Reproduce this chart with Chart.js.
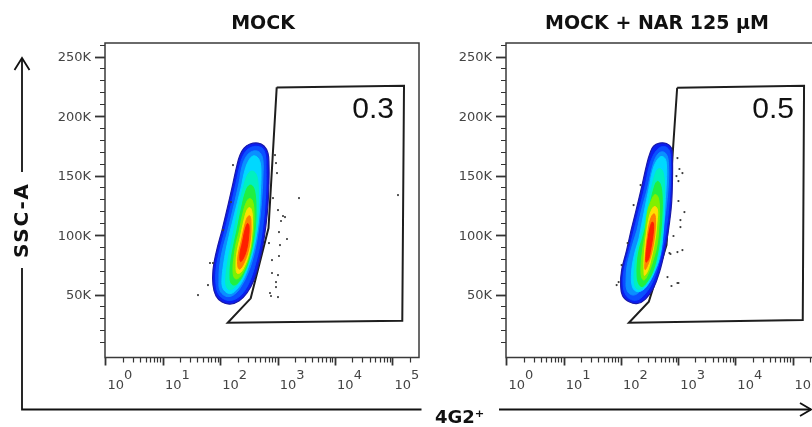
<!DOCTYPE html>
<html><head><meta charset="utf-8">
<script src="https://cdn.jsdelivr.net/npm/chart.js@4.4.1/dist/chart.umd.min.js"></script>
<style>
html,body{margin:0;padding:0;background:#fff;}
body{width:812px;height:427px;overflow:hidden;position:relative;}
canvas{position:absolute;top:0;}
#c1{left:0;} #c2{left:400px;}
#ov{position:absolute;left:0;top:0;pointer-events:none;}
</style></head><body>
<canvas id="c1" width="430" height="427"></canvas>
<canvas id="c2" width="430" height="427"></canvas>
<svg id="ov" width="812" height="427" xmlns="http://www.w3.org/2000/svg"></svg>
<script>
// ---------- texts ----------
const panelTitles = ['MOCK', 'MOCK + NAR 125 µM'];
const gateValues = ['0.3', '0.5'];
const yAxisTitle = 'SSC-A';
const xAxisTitle = '4G2⁺';

// ---------- axes ----------
const xMin = 0.961, xMax = 283800;
const yMin = -2500, yMax = 261800;
const xDecades = [1, 10, 100, 1000, 10000, 100000];
const xExponents = ['0', '1', '2', '3', '4', '5'];
const xMinorMultipliers = [2, 3, 4, 5, 6, 7, 8, 9];
const yMajorValues = [50000, 100000, 150000, 200000, 250000];
const yMajorLabels = ['50K', '100K', '150K', '200K', '250K'];
const yMinorStep = 10000;

// ---------- MOCK panel: gate, density contours (outer -> inner), events ----------
const mockGate = [[942,224500],[155500,225900],[145200,28400],[132,26700],[332,47200],[678,106300],[942,224500]];
const mockL1 = [[105.0,104600],[133.5,125600],[163.2,144100],[191.5,159200],[216.0,167600],[253.6,173500],[322.7,176900],[444.8,177700],[565.8,175200],[664.2,169300],[691.3,159200],[691.3,144100],[664.2,125600],[613.1,108800],[543.6,92000],[463.0,76900],[378.8,62600],[286.1,51700],[207.5,45000],[144.7,42400],[105.0,44100],[82.5,49200],[73.1,58400],[73.1,71000],[82.5,85300],[105.0,104600]];
const mockL2 = [[118.4,104600],[150.6,125600],[184.0,144100],[216.0,159200],[243.7,166800],[286.1,171800],[349.7,174400],[444.8,174800],[543.6,172700],[600.7,166800],[613.1,156700],[613.1,142400],[588.8,125600],[543.6,108800],[481.9,92000],[410.5,77700],[335.9,64300],[264.0,54200],[199.4,47900],[144.7,45400],[109.2,47100],[89.4,51700],[82.5,59200],[82.5,71000],[93.0,85300],[118.4,104600]];
const mockL3 = [[133.5,104600],[169.8,125600],[207.5,144100],[234.0,157600],[274.8,166000],[335.9,170200],[427.3,171000],[501.6,168400],[543.6,162600],[543.6,150800],[522.3,134000],[481.9,114700],[427.3,96200],[363.9,81100],[297.8,68500],[234.0,58400],[184.0,51700],[139.0,48700],[109.2,50400],[94.9,55000],[93.0,62600],[94.9,72700],[105.0,86100],[133.5,104600]];
const mockL4 = [[147.6,104600],[184.0,123100],[224.9,139900],[264.0,155000],[310.0,163400],[363.9,166800],[427.3,166000],[481.9,161800],[501.6,152500],[491.6,138200],[472.5,121400],[427.3,102900],[363.9,86100],[297.8,72700],[243.7,62600],[191.5,55000],[150.6,51300],[123.2,52500],[107.1,56700],[105.0,64300],[111.4,75200],[123.2,87800],[147.6,104600]];
const mockL5 = [[169.8,104600],[207.5,125600],[253.6,142400],[297.8,151700],[349.7,154200],[410.5,151700],[444.8,144100],[453.8,129800],[436.0,113000],[394.3,97900],[335.9,83600],[274.8,71000],[216.0,61700],[169.8,55900],[139.0,54600],[123.2,58400],[123.2,66800],[133.5,79400],[150.6,92000],[169.8,104600]];
const mockL6 = [[191.5,104600],[229.4,123100],[269.4,136500],[310.0,142000],[356.7,141600],[394.3,135700],[410.5,123100],[402.4,108800],[363.9,93700],[310.0,79400],[253.6,68500],[207.5,61300],[173.3,58400],[150.6,60100],[144.7,67600],[150.6,79400],[166.5,91200],[191.5,104600]];
const mockL7 = [[207.5,102900],[243.7,118900],[280.4,128100],[316.3,131100],[356.7,129000],[378.8,119700],[371.3,106300],[342.7,92000],[297.8,79400],[243.7,69300],[199.4,63900],[173.3,64300],[163.2,71000],[169.8,81900],[184.0,92900],[207.5,102900]];
const mockL8 = [[220.4,99600],[253.6,113000],[286.1,121400],[316.3,123500],[342.7,121400],[356.7,113000],[342.7,97900],[310.0,85300],[264.0,75200],[220.4,68900],[191.5,68500],[184.0,75200],[191.5,86100],[220.4,99600]];
const mockL9 = [[229.4,96200],[258.8,108000],[291.9,115500],[322.7,116400],[335.9,109700],[329.2,97900],[297.8,86100],[253.6,76900],[216.0,71800],[199.4,73500],[199.4,82800],[229.4,96200]];
const mockL10 = [[238.8,94500],[264.0,104600],[291.9,110100],[310.0,108000],[303.9,97900],[280.4,87800],[243.7,80200],[220.4,78100],[216.0,84500],[238.8,94500]];
const mockEvents = [[879.7,167600],[915.6,160900],[953.0,152500],[2304,131500],[122200,134000],[1314,115500],[1119,112200],[1032,102900],[1423,97100],[1075,92000],[1032,82800],[779.8,79400],[779.8,68500],[992,66800],[915.6,60900],[915.6,56700],[719.6,51700],[992,48300],[40.1,50000],[59.8,58400],[64.8,76900],[73.1,76900],[163.2,159200],[150.6,128100],[109.2,104600],[811.9,131500],[992,121400],[1212,116400],[691.3,93700],[749.2,49200]];

// ---------- MOCK + NAR panel ----------
const narGate = [[942,224200],[155500,225900],[147600,29000],[135,26700],[301,44400],[613,92000],[942,224200]];
const narL1 = [[147.6,104600],[180.4,121400],[229.4,142400],[274.8,159200],[316.3,169300],[363.9,175200],[463.0,177700],[613.1,177300],[749.2,173500],[779.8,165100],[779.8,146600],[749.2,125600],[664.2,104600],[565.8,86100],[463.0,69300],[363.9,55900],[264.0,46600],[191.5,42900],[139.0,44100],[105.0,49200],[96.9,58400],[100.8,71000],[123.2,87800],[147.6,104600]];
const narL2 = [[166.5,104600],[203.4,121400],[258.8,141600],[303.9,157600],[349.7,166000],[410.5,171400],[491.6,174400],[600.7,174400],[691.3,171000],[719.6,163400],[719.6,146600],[677.6,125600],[600.7,104600],[511.8,87000],[418.8,71000],[329.2,58400],[243.7,49600],[187.7,45800],[141.8,46600],[116.0,51300],[107.1,59200],[111.4,71000],[136.2,87800],[166.5,104600]];
const narL3 = [[187.7,104600],[224.9,121400],[286.1,139900],[335.9,155000],[386.5,164300],[453.8,169300],[543.6,170200],[625.6,167200],[664.2,160100],[664.2,145000],[613.1,125600],[532.8,106300],[453.8,90300],[371.3,76000],[291.9,63900],[224.9,55000],[176.8,50400],[141.8,50800],[123.2,55000],[120.8,62600],[125.7,74400],[150.6,89500],[187.7,104600]];
const narL4 = [[203.4,97900],[234.0,113000],[264.0,125600],[303.9,139900],[349.7,154200],[410.5,162600],[491.6,166400],[577.2,164700],[613.1,158400],[613.1,146600],[577.2,125600],[532.8,100500],[472.5,82800],[378.8,69300],[286.1,58400],[220.4,53400],[176.8,53400],[153.6,58000],[150.6,69300],[166.5,82800],[203.4,97900]];
const narL5 = [[216.0,97900],[258.8,113000],[289.5,125600],[329.2,138200],[378.8,150000],[427.3,155500],[491.6,155900],[543.6,151700],[565.8,141600],[550.1,125600],[511.8,100500],[444.8,83600],[359.5,69300],[274.8,59700],[216.0,55000],[180.4,55900],[166.5,61800],[169.8,72700],[184.0,86100],[216.0,97900]];
const narL6 = [[234.0,97900],[280.4,112200],[322.7,128100],[371.3,139900],[418.8,145400],[472.5,143700],[511.8,134900],[511.8,117200],[472.5,97900],[418.8,82800],[349.7,69300],[274.8,60500],[229.4,57100],[199.4,59700],[187.7,66800],[191.5,79400],[207.5,89500],[234.0,97900]];
const narL7 = [[258.8,100500],[286.1,119700],[335.9,129800],[386.5,134400],[436.0,132300],[463.0,123100],[453.8,108800],[418.8,92000],[349.7,77700],[286.1,66800],[248.6,62600],[224.9,65100],[220.4,74400],[234.0,87800],[258.8,100500]];
const narL8 = [[264.0,96200],[297.8,113000],[342.7,122300],[386.5,124400],[427.3,121400],[418.8,111300],[386.5,96200],[335.9,81900],[291.9,71000],[253.6,66400],[248.6,69300],[248.6,81100],[264.0,96200]];
const narL9 = [[274.8,94500],[303.9,108800],[342.7,116800],[378.8,118100],[394.3,111300],[371.3,96200],[329.2,83600],[286.1,74800],[258.8,71400],[258.8,78600],[274.8,94500]];
const narL10 = [[280.4,92000],[310.0,104600],[342.7,111300],[363.9,110100],[356.7,100500],[322.7,87800],[297.8,80200],[269.4,77700],[269.4,84500],[280.4,92000]];
const narEvents = [[953.0,165100],[1032,155900],[1165,152500],[915.6,150000],[992,145800],[992,129000],[1262,119700],[1075,113000],[1075,107100],[811.9,99600],[1165,87800],[953,86100],[719.6,84500],[638.2,65100],[953,60100],[749.2,57600],[216.0,142400],[163.2,125600],[128.2,93700],[100.8,75200],[89.4,60900],[82.5,58400],[691.3,85300],[992,60100]];

const mockLevels = [mockL1, mockL2, mockL3, mockL4, mockL5, mockL6, mockL7, mockL8, mockL9, mockL10];
const narLevels = [narL1, narL2, narL3, narL4, narL5, narL6, narL7, narL8, narL9, narL10];

// ---------- styles ----------
const levelColors = ['#0a1ef0','#0a50ff','#0a90ff','#00d8ff','#00f0c0','#20f040','#80f000','#ffe000','#ff8000','#ff2000'];

// ---------- tick lists for the library ----------
const xTickValues = [];
xDecades.forEach(d => { xTickValues.push(d); if (d < 100000) xMinorMultipliers.forEach(m => xTickValues.push(m * d)); });
xTickValues.push(2 * 100000);
const yTickValues = [];
for (let v = yMinorStep; v <= 260000; v += yMinorStep) yTickValues.push(v);
const isXMajor = v => xDecades.indexOf(v) >= 0;
const isYMajor = v => yMajorValues.indexOf(v) >= 0;
const toXY = arr => arr.map(p => ({x: p[0], y: p[1]}));

const framePlugin = {
  id: 'frame',
  afterDatasetsDraw(chart) {
    const {ctx, chartArea: a} = chart;
    ctx.save();
    ctx.strokeStyle = '#3a3a3a';
    ctx.lineWidth = 1.5;
    ctx.strokeRect(a.left, a.top, a.right - a.left, a.bottom - a.top);
    ctx.restore();
  }
};

function makeChart(id, levels, gate, events, yWidth) {
  const datasets = [];
  datasets.push({data: toXY(gate), showLine: true, fill: false, borderColor: '#1e1e1e', borderWidth: 2,
    pointRadius: 0, tension: 0, order: 100});
  levels.forEach((lv, i) => datasets.push({data: toXY(lv), showLine: true, fill: 'shape',
    backgroundColor: levelColors[i], borderColor: i === 0 ? '#1a1aa8' : levelColors[i],
    borderWidth: i === 0 ? 1.2 : 1, pointRadius: 0, tension: 0.4, order: 50 - i}));
  datasets.push({data: toXY(events), showLine: false, pointRadius: 1.1, pointBorderWidth: 0,
    backgroundColor: '#3c3c3c', borderWidth: 0, order: 0});

  return new Chart(document.getElementById(id), {
    type: 'scatter',
    data: {datasets},
    plugins: [framePlugin],
    options: {
      responsive: false, animation: false, events: [],
      layout: {padding: {top: 43, right: 11, left: 0, bottom: 0}},
      plugins: {legend: {display: false}, tooltip: {enabled: false}, title: {display: false}},
      scales: {
        x: {
          type: 'logarithmic', min: xMin, max: xMax, bounds: 'data',
          afterBuildTicks: s => { s.ticks = xTickValues.map(v => ({value: v})); },
          afterFit: s => { s.height = 69.5; },
          border: {display: false},
          grid: {display: true, drawOnChartArea: false, drawTicks: true, tickLength: 8, tickColor: '#333',
            tickWidth: c => (c.tick && isXMajor(c.tick.value)) ? 1.8 : 1.2,
            tickBorderDash: c => (c.tick && isXMajor(c.tick.value)) ? [] : [4.5, 100]},
          ticks: {autoSkip: false, maxRotation: 0, minRotation: 0, align: 'start', padding: 5.3, labelOffset: 1.5,
            color: '#444', font: {family: 'DejaVu Sans', size: 13, lineHeight: 0.77},
            callback: v => { const i = xDecades.indexOf(v); return i >= 0 ? ['\u2007\u2007' + xExponents[i], '10'] : ''; }}
        },
        y: {
          type: 'linear', min: yMin, max: yMax, bounds: 'data',
          afterBuildTicks: s => { s.ticks = yTickValues.map(v => ({value: v})); },
          afterFit: s => { s.width = yWidth; },
          border: {display: false},
          grid: {display: true, drawOnChartArea: false, drawTicks: true, tickLength: 10, tickColor: '#333',
            tickWidth: c => (c.tick && isYMajor(c.tick.value)) ? 1.8 : 1.2,
            tickBorderDash: c => (c.tick && isYMajor(c.tick.value)) ? [] : [0, 5, 5, 100]},
          ticks: {autoSkip: false, padding: 4, color: '#444', labelOffset: 1,
            font: {family: 'DejaVu Sans', size: 13},
            callback: v => { const i = yMajorValues.indexOf(v); return i >= 0 ? yMajorLabels[i] : ''; }}
        }
      }
    }
  });
}

makeChart('c1', mockLevels, mockGate, mockEvents, 105);
makeChart('c2', narLevels, narGate, narEvents, 106);

// ---------- overlay: titles, gate values, outer axis arrows ----------
const NS = 'http://www.w3.org/2000/svg';
const ov = document.getElementById('ov');
function el(tag, attrs, text) {
  const e = document.createElementNS(NS, tag);
  for (const k in attrs) e.setAttribute(k, attrs[k]);
  if (text !== undefined) e.textContent = text;
  ov.appendChild(e);
  return e;
}
const titleX = [263, 657];
panelTitles.forEach((t, i) => el('text', {x: titleX[i], y: 29.3, 'text-anchor': 'middle',
  'font-family': 'DejaVu Sans', 'font-weight': 'bold', 'font-size': 19, fill: '#111'}, t));
const gateX = [394, 794];
gateValues.forEach((t, i) => el('text', {x: gateX[i], y: 118.3, 'text-anchor': 'end',
  'font-family': 'Liberation Sans', 'font-size': 30, fill: '#111'}, t));
const line = {stroke: '#111', 'stroke-width': 1.8, fill: 'none'};
el('path', Object.assign({d: 'M22 172 V58'}, line));
el('path', Object.assign({d: 'M14.5 70 L22 58 L29.5 70'}, line));
el('path', Object.assign({d: 'M22 268 V409.5 H421.5'}, line));
el('path', Object.assign({d: 'M499 409.5 H811'}, line));
el('path', Object.assign({d: 'M800 403 L811 409.5 L800 416'}, line));
el('text', {x: 21, y: 221, transform: 'rotate(-90 21 221)', 'text-anchor': 'middle', 'dominant-baseline': 'central',
  'font-family': 'DejaVu Sans', 'font-weight': 'bold', 'font-size': 20, fill: '#111',
  textLength: 74, lengthAdjust: 'spacing'}, yAxisTitle);
el('text', {x: 435, y: 423.3, 'font-family': 'DejaVu Sans', 'font-weight': 'bold', 'font-size': 18, fill: '#111'}, xAxisTitle);
</script>
</body></html>
